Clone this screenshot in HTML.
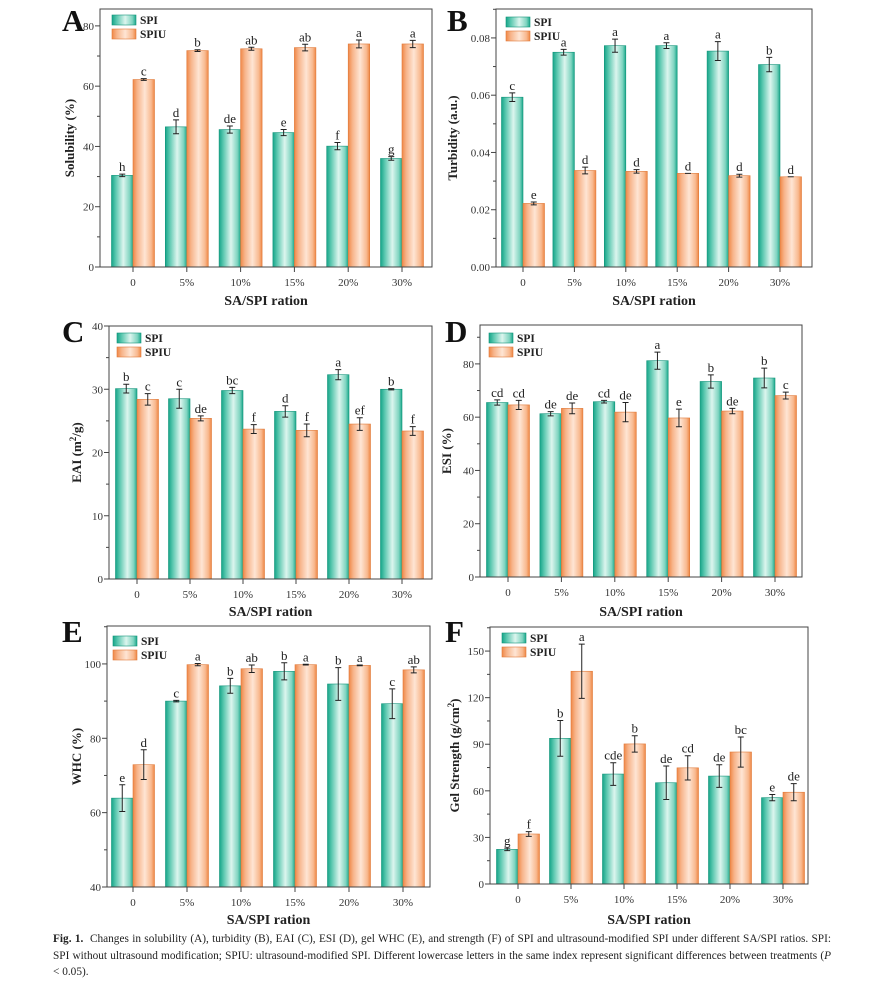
<!DOCTYPE html>
<html><head><meta charset="utf-8"><style>
body{margin:0;background:#fff;width:871px;height:985px;overflow:hidden;position:relative;font-family:"Liberation Serif",serif}
svg{position:absolute;left:0;top:0}
#cap{position:absolute;left:53px;top:931px;width:778px;font-size:11.3px;line-height:16.5px;text-align:justify;color:#222;font-family:"Liberation Serif",serif;hyphens:auto;-webkit-hyphens:auto}
</style></head><body>
<svg id="fig" width="871" height="930" xmlns="http://www.w3.org/2000/svg">
<defs>
<linearGradient id="gT" x1="0" x2="1" y1="0" y2="0"><stop offset="0" stop-color="#16a589"/><stop offset="0.2" stop-color="#5cc8b0"/><stop offset="0.55" stop-color="#dcf5ee"/><stop offset="0.85" stop-color="#7fd4c0"/><stop offset="1" stop-color="#1aa88b"/></linearGradient>
<linearGradient id="gO" x1="0" x2="1" y1="0" y2="0"><stop offset="0" stop-color="#f08848"/><stop offset="0.2" stop-color="#f7b48a"/><stop offset="0.55" stop-color="#fee5d4"/><stop offset="0.85" stop-color="#f8b98f"/><stop offset="1" stop-color="#ef8745"/></linearGradient>
</defs>
</svg>
<div id="cap" lang="en"><b>Fig. 1.</b>&nbsp; Changes in solubility (A), turbidity (B), EAI (C), ESI (D), gel WHC (E), and strength (F) of SPI and ultrasound-modified SPI under different SA/SPI ratios. SPI: SPI without ultrasound modification; SPIU: ultrasound-modified SPI. Different lowercase letters in the same index represent significant differences between treat&shy;ments (<i>P</i> &lt; 0.05).</div>
<script>
const categories = ["0","5%","10%","15%","20%","30%"];
// A solubility
const solSPI = [30.4,46.5,45.6,44.6,40.1,36.0];
const solSPIerr = [0.4,2.3,1.2,1.0,1.2,0.6];
const solSPIU = [62.2,71.8,72.4,72.8,74.0,74.0];
const solSPIUerr = [0.3,0.3,0.5,1.1,1.3,1.2];
const solSPIlet = ["h","d","de","e","f","g"];
const solSPIUlet = ["c","b","ab","ab","a","a"];
const solTicks = [0,20,40,60,80];
// B turbidity
const turSPI = [0.0593,0.0750,0.0773,0.0773,0.0754,0.0707];
const turSPIerr = [0.0015,0.001,0.0023,0.001,0.0033,0.0025];
const turSPIU = [0.0222,0.0337,0.0334,0.0327,0.0319,0.0315];
const turSPIUerr = [0.0005,0.0012,0.0006,0,0.0005,0];
const turSPIlet = ["c","a","a","a","a","b"];
const turSPIUlet = ["e","d","d","d","d","d"];
const turTicks = [0,0.02,0.04,0.06,0.08];
// C EAI
const eaiSPI = [30.1,28.5,29.8,26.5,32.3,30.0];
const eaiSPIerr = [0.7,1.5,0.5,0.9,0.8,0.1];
const eaiSPIU = [28.4,25.4,23.7,23.5,24.5,23.4];
const eaiSPIUerr = [0.9,0.4,0.7,1.0,1.0,0.7];
const eaiSPIlet = ["b","c","bc","d","a","b"];
const eaiSPIUlet = ["c","de","f","f","ef","f"];
const eaiTicks = [0,10,20,30,40];
// D ESI
const esiSPI = [65.5,61.3,65.8,81.2,73.4,74.7];
const esiSPIerr = [1.0,0.8,0.5,3.2,2.5,3.7];
const esiSPIU = [64.6,63.3,61.9,59.7,62.3,68.1];
const esiSPIUerr = [1.7,2.0,3.6,3.3,1.0,1.3];
const esiSPIlet = ["cd","de","cd","a","b","b"];
const esiSPIUlet = ["cd","de","de","e","de","c"];
const esiTicks = [0,20,40,60,80];
// E WHC
const whcSPI = [63.9,90.0,94.1,98.0,94.6,89.3];
const whcSPIerr = [3.6,0.2,2.0,2.3,4.4,4.0];
const whcSPIU = [72.9,99.8,98.7,99.8,99.6,98.4];
const whcSPIUerr = [4.0,0.3,1.0,0.1,0.1,0.8];
const whcSPIlet = ["e","c","b","b","b","c"];
const whcSPIUlet = ["d","a","ab","a","a","ab"];
const whcTicks = [40,60,80,100];
// F gel strength
const gelSPI = [22.3,93.8,70.8,65.2,69.5,55.6];
const gelSPIerr = [0.8,11.5,7.3,10.8,7.3,2.0];
const gelSPIU = [32.2,137.0,90.2,74.8,85.0,59.1];
const gelSPIUerr = [1.5,17.5,5.3,7.8,9.7,5.5];
const gelSPIlet = ["g","b","cde","de","de","e"];
const gelSPIUlet = ["f","a","b","cd","bc","de"];
const gelTicks = [0,30,60,90,120,150];

const NS="http://www.w3.org/2000/svg";
const svg=document.getElementById('fig');
function mk(tag,attrs,parent,txt){const e=document.createElementNS(NS,tag);for(const k in attrs)e.setAttribute(k,attrs[k]);if(txt!==undefined)e.textContent=txt;(parent||svg).appendChild(e);return e;}

function panel(cfg){
  const g=mk('g',{});
  
  
  const L=cfg.l,R=cfg.r,T=cfg.t,B=cfg.b;
  const y=v=>B-(v-cfg.ymin)/(cfg.ymax-cfg.ymin)*(B-T);
  const x0=cfg.x0,x5=cfg.x5,step=(x5-x0)/(categories.length-1);
  const xc=i=>x0+i*step;
  const bw=21.5;
  const series=[[cfg.s1,cfg.e1,cfg.l1,'url(#gT)','#12947a',-1,'spi'],[cfg.s2,cfg.e2,cfg.l2,'url(#gO)','#e07a3a',0,'spiu']];
  series.forEach(s=>{
    s[0].forEach((v,i)=>{
      const bx=xc(i)+s[5]*bw, by=y(v);
      const r=mk('rect',{x:bx,y:by,width:bw,height:B-by,fill:s[3],stroke:s[4],'stroke-width':0.6},g);
      
      
      const cx=bx+bw/2, e=s[1][i], t=y(v+e), bo=y(v-e);
      const eb=mk('path',{d:`M${cx-3},${t}H${cx+3}M${cx},${t}V${bo}M${cx-3},${bo}H${cx+3}`,stroke:'#222','stroke-width':1,fill:'none'},g);
      
      
      const lt=mk('text',{x:cx,y:t-3,'text-anchor':'middle','font-size':13,fill:'#222'},g,s[2][i]);
      
      
    });
  });
  const fr=mk('rect',{x:L,y:T,width:R-L,height:B-T,fill:'none',stroke:'#444','stroke-width':1},g);
  
  
  const tk=cfg.ticks, dt=tk[1]-tk[0];
  tk.forEach((v,i)=>{
    mk('line',{x1:L-5,x2:L,y1:y(v),y2:y(v),stroke:'#444'},g);
    const tl=mk('text',{x:L-6,y:y(v)+4,'text-anchor':'end','font-size':11,fill:'#333'},g,cfg.fmt(v));
    
    
    const m=v+dt/2; if(m<cfg.ymax) mk('line',{x1:L-3,x2:L,y1:y(m),y2:y(m),stroke:'#444'},g);
  });
  categories.forEach((c,i)=>{
    mk('line',{x1:xc(i),x2:xc(i),y1:B,y2:B+5,stroke:'#444'},g);
    const xl=mk('text',{x:xc(i),y:B+19,'text-anchor':'middle','font-size':11,fill:'#333'},g,c);
    
    
  });
  const xt=mk('text',{x:(L+R)/2,y:cfg.xty,'text-anchor':'middle','font-size':14,'font-weight':'bold',fill:'#222'},g,'SA/SPI ration');
  
  
  const yt=mk('text',{x:0,y:0,'text-anchor':'middle','font-size':13,'font-weight':'bold',fill:'#222',transform:`translate(${cfg.ytx},${(T+B)/2}) rotate(-90)`},g);
  yt.innerHTML=cfg.ytitle;
  
  
  const pl=mk('text',{x:cfg.lx,y:cfg.ly,'font-size':31,'font-weight':'bold',fill:'#111'},g,cfg.letter);
  
  
  [['SPI','url(#gT)','#12947a'],['SPIU','url(#gO)','#e07a3a']].forEach((s,k)=>{
    const lg=mk('g',{},g);
    
    
    const yy=cfg.legy+k*14;
    mk('rect',{x:cfg.legx,y:yy,width:24,height:10,fill:s[1],stroke:s[2],'stroke-width':0.6},lg);
    mk('text',{x:cfg.legx+28,y:yy+9,'font-size':11.5,'font-weight':'bold',fill:'#222'},lg,s[0]);
  });
}
const f0=v=>String(v), f2=v=>v.toFixed(2);
panel({name:'panel-a-solubility',letter:'A',l:100,r:432,t:9,b:267,ymin:0,ymax:85.6,x0:133,x5:402,s1:solSPI,e1:solSPIerr,l1:solSPIlet,s2:solSPIU,e2:solSPIUerr,l2:solSPIUlet,ticks:solTicks,fmt:f0,xty:305,ytx:74,ytitle:'Solubility (%)',lx:62,ly:31,legx:112,legy:15});
panel({name:'panel-b-turbidity',letter:'B',l:496,r:812,t:9,b:267,ymin:0,ymax:0.0901,x0:523,x5:780,s1:turSPI,e1:turSPIerr,l1:turSPIlet,s2:turSPIU,e2:turSPIUerr,l2:turSPIUlet,ticks:turTicks,fmt:f2,xty:305,ytx:457,ytitle:'Turbidity (a.u.)',lx:447,ly:31,legx:506,legy:17});
panel({name:'panel-c-eai',letter:'C',l:109,r:432,t:326,b:579,ymin:0,ymax:40,x0:137,x5:402,s1:eaiSPI,e1:eaiSPIerr,l1:eaiSPIlet,s2:eaiSPIU,e2:eaiSPIUerr,l2:eaiSPIUlet,ticks:eaiTicks,fmt:f0,xty:616,ytx:81,ytitle:'EAI (m<tspan font-size="9" dy="-5">2</tspan><tspan dy="5">/g)</tspan>',lx:62,ly:342,legx:117,legy:333});
panel({name:'panel-d-esi',letter:'D',l:480,r:802,t:325,b:577,ymin:0,ymax:94.6,x0:508,x5:775,s1:esiSPI,e1:esiSPIerr,l1:esiSPIlet,s2:esiSPIU,e2:esiSPIUerr,l2:esiSPIUlet,ticks:esiTicks,fmt:f0,xty:616,ytx:451,ytitle:'ESI (%)',lx:445,ly:342,legx:489,legy:333});
panel({name:'panel-e-whc',letter:'E',l:107,r:430,t:626,b:887,ymin:40,ymax:110.2,x0:133,x5:403,s1:whcSPI,e1:whcSPIerr,l1:whcSPIlet,s2:whcSPIU,e2:whcSPIUerr,l2:whcSPIUlet,ticks:whcTicks,fmt:f0,xty:924,ytx:81,ytitle:'WHC (%)',lx:62,ly:642,legx:113,legy:636});
panel({name:'panel-f-gel-strength',letter:'F',l:490,r:808,t:627,b:884,ymin:0,ymax:165.5,x0:518,x5:783,s1:gelSPI,e1:gelSPIerr,l1:gelSPIlet,s2:gelSPIU,e2:gelSPIUerr,l2:gelSPIUlet,ticks:gelTicks,fmt:f0,xty:924,ytx:459,ytitle:'Gel Strength (g/cm<tspan font-size="9" dy="-5">2</tspan><tspan dy="5">)</tspan>',lx:445,ly:642,legx:502,legy:633});
</script>
</body></html>
